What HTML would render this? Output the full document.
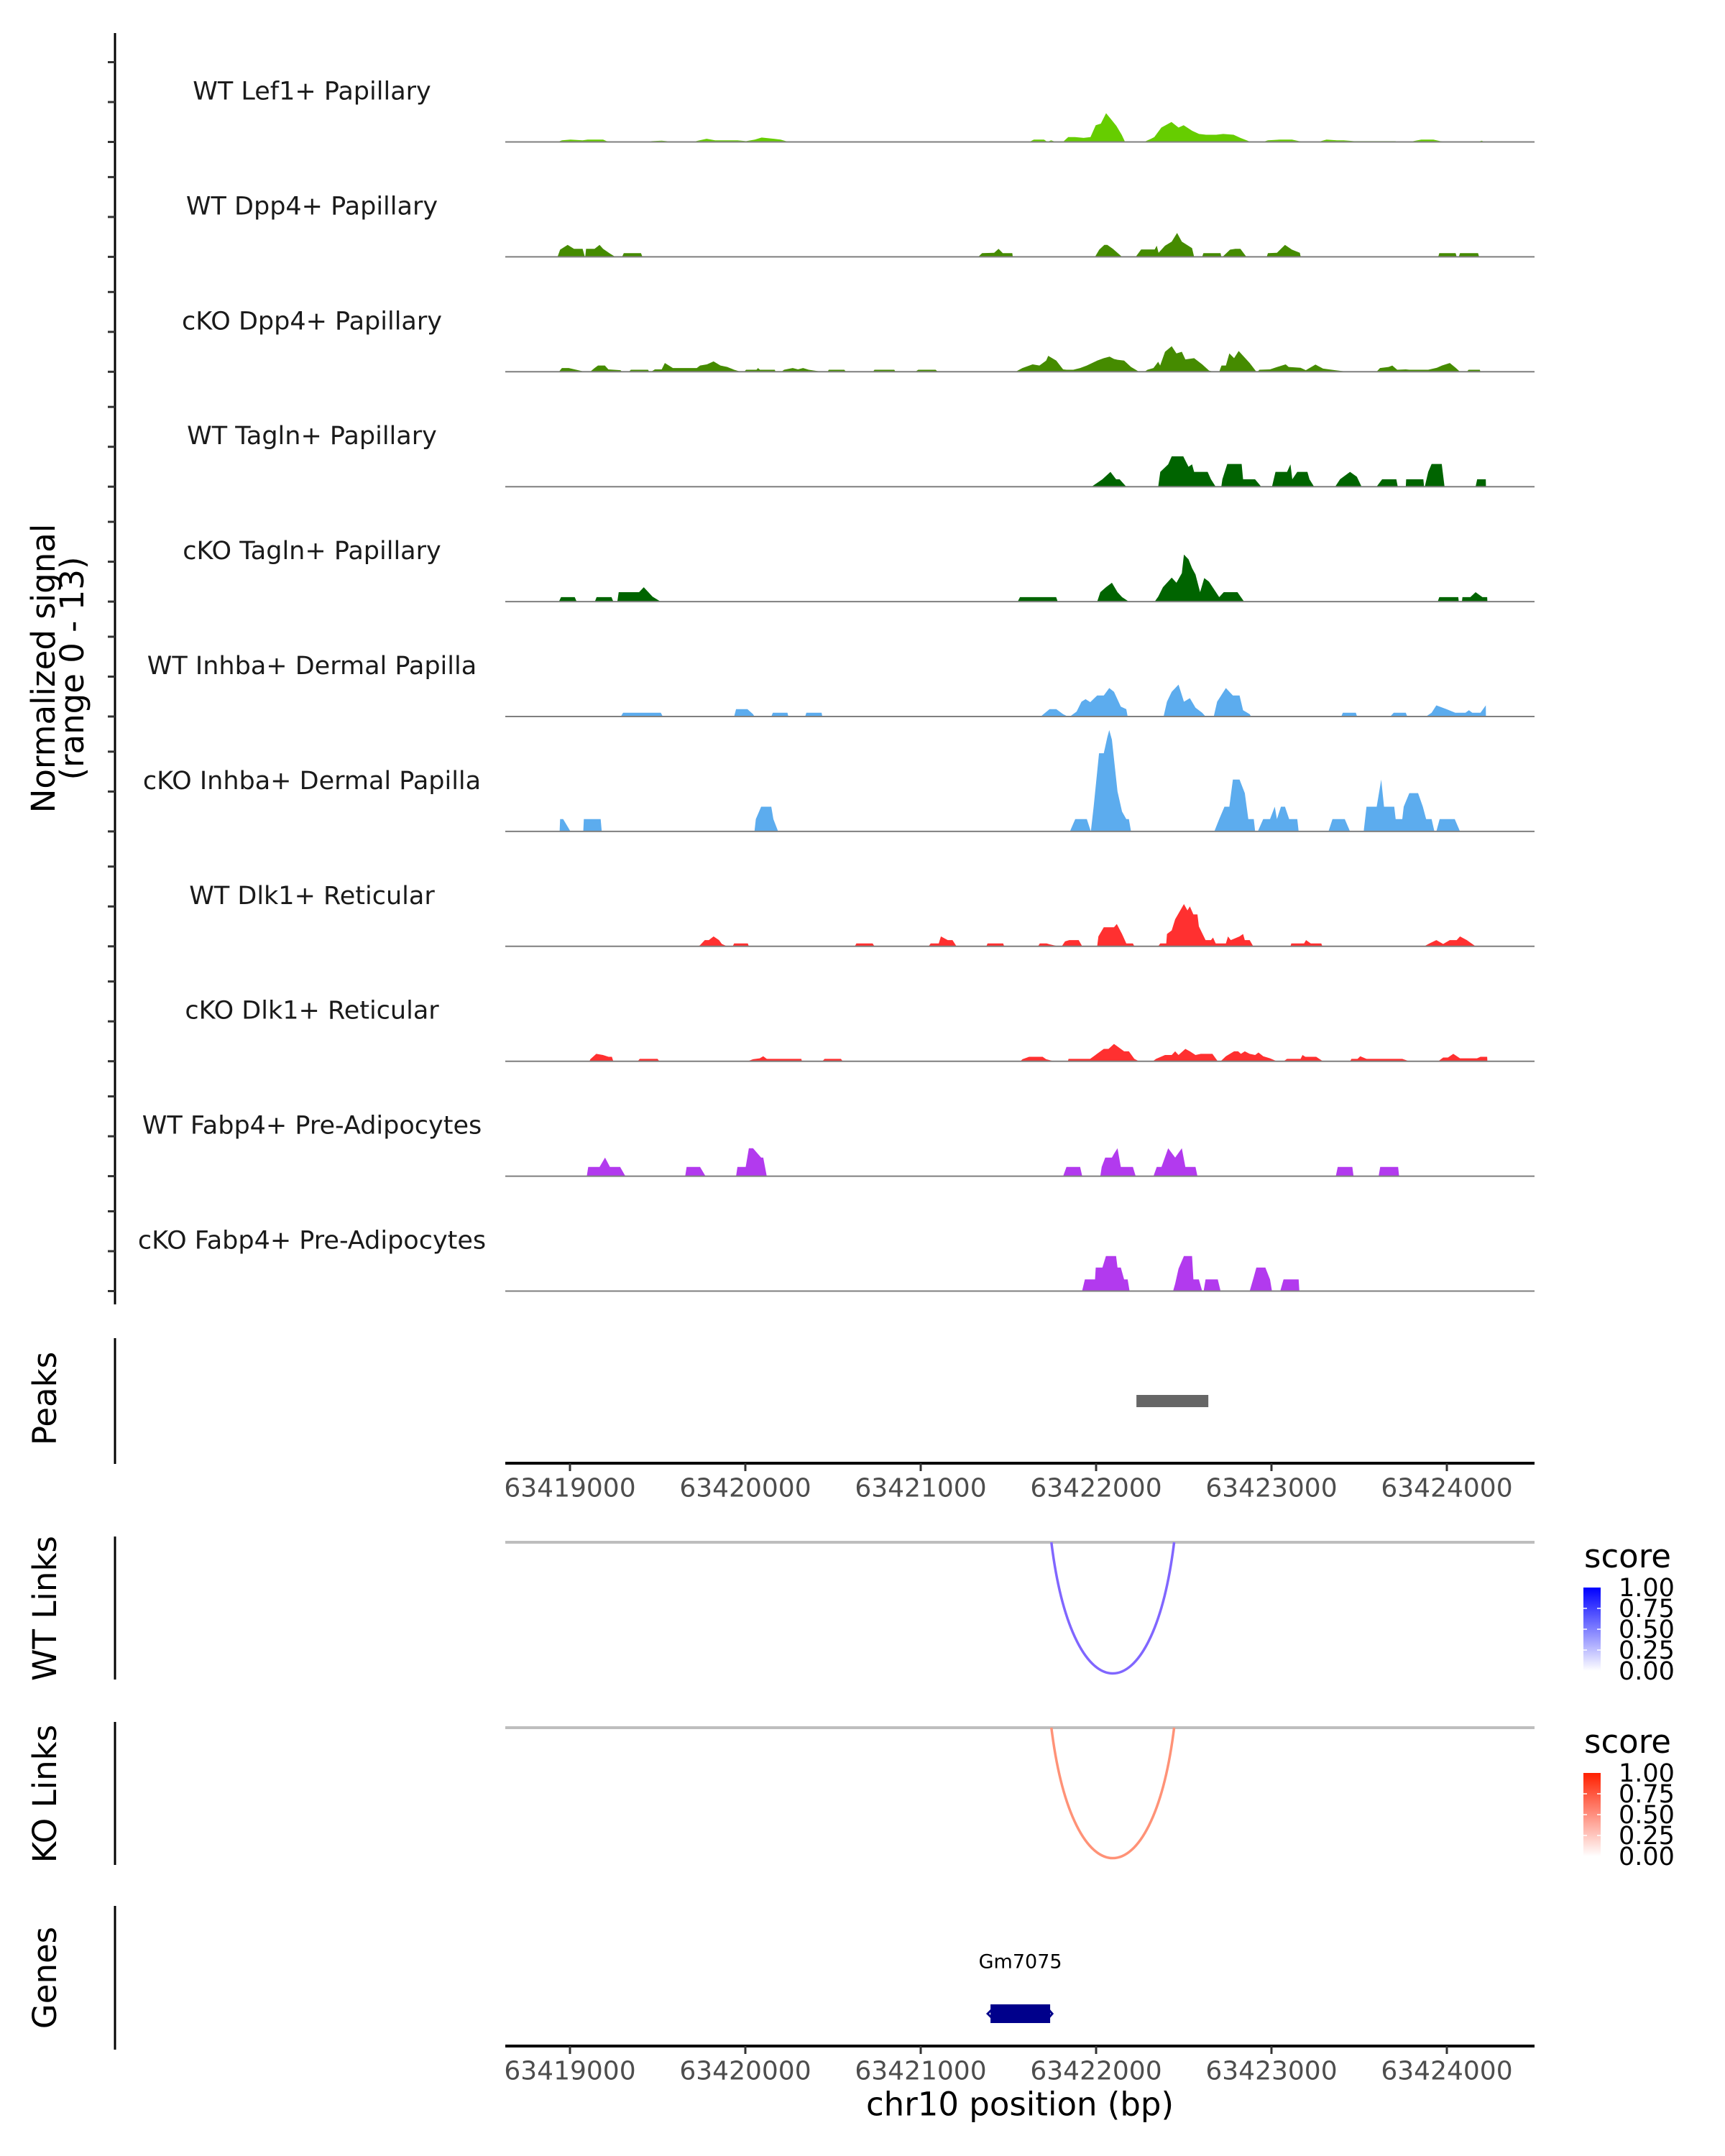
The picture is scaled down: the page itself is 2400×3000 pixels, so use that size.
<!DOCTYPE html>
<html><head><meta charset="utf-8">
<style>
html,body{margin:0;padding:0;background:#fff;}
svg{display:block;font-family:"DejaVu Sans","Liberation Sans",sans-serif;}
</style></head>
<body>
<svg id="chart" width="2400" height="3000" viewBox="0 0 2400 3000" xmlns="http://www.w3.org/2000/svg">
<rect width="2400" height="3000" fill="#fff"/>
<g id="tracks"></g>
<g id="lower"></g>
</svg>
<script>
const trackNames = ["WT Lef1+ Papillary","WT Dpp4+ Papillary","cKO Dpp4+ Papillary","WT Tagln+ Papillary","cKO Tagln+ Papillary","WT Inhba+ Dermal Papilla","cKO Inhba+ Dermal Papilla","WT Dlk1+ Reticular","cKO Dlk1+ Reticular","WT Fabp4+ Pre-Adipocytes","cKO Fabp4+ Pre-Adipocytes"];
const trackColors = ["#66CD00","#458B00","#458B00","#006400","#006400","#5CACEE","#5CACEE","#FF3030","#FF3030","#B23AEE","#B23AEE"];
const xTicks = [63419000,63420000,63421000,63422000,63423000,63424000];
const yTickVals = [0,5,10];
const peakRegion = [63422230,63422640];
const wtLink = [63421745,63422445];
const koLink = [63421745,63422445];
const geneSpan = [63421398,63421738];
const legendTicks = ["1.00","0.75","0.50","0.25","0.00"];

const sig1 = [[63418929,0],[63418954,0.2],[63419003,0.3],[63419072,0.2],[63419101,0.3],[63419189,0.3],[63419209,0.1],[63419297,0],[63419435,0],[63419465,0.1],[63419523,0.15],[63419602,0],[63419700,0],[63419739,0.2],[63419779,0.4],[63419828,0.2],[63419955,0.2],[63420004,0.1],[63420054,0.3],[63420093,0.55],[63420162,0.4],[63420201,0.3],[63420231,0.1],[63420280,0],[63421619,0],[63421645,0.3],[63421703,0.3],[63421723,0],[63421743,0.2],[63421772,0],[63421811,0],[63421841,0.6],[63421880,0.6],[63421929,0.5],[63421968,0.6],[63421998,2.1],[63422027,2.3],[63422057,3.6],[63422087,2.8],[63422116,2.0],[63422146,0.9],[63422165,0],[63422273,0],[63422313,0.4],[63422332,0.6],[63422372,1.8],[63422430,2.5],[63422470,1.8],[63422499,2.1],[63422548,1.4],[63422587,1.0],[63422627,0.9],[63422685,0.9],[63422725,1.0],[63422784,0.9],[63422823,0.5],[63422882,0],[63422950,0],[63422980,0.2],[63423049,0.3],[63423117,0.3],[63423157,0.1],[63423245,0],[63423265,0],[63423314,0.3],[63423373,0.2],[63423412,0.2],[63423471,0.1],[63423707,0.1],[63423727,0],[63423785,0],[63423854,0.3],[63423923,0.3],[63423962,0.1],[63424075,0],[63424178,0],[63424198,0.15],[63424218,0]];
const sig2 = [[63418929,0],[63418944,0.9],[63418987,1.5],[63419023,1.0],[63419072,1.0],[63419085,0],[63419087,0],[63419092,1.0],[63419140,1.0],[63419169,1.5],[63419189,1.0],[63419229,0.4],[63419258,0],[63419297,0],[63419307,0.47],[63419405,0.47],[63419413,0],[63421328,0],[63421350,0.47],[63421419,0.5],[63421444,1.0],[63421468,0.47],[63421522,0.47],[63421525,0],[63421994,0],[63422018,0.9],[63422047,1.5],[63422064,1.5],[63422096,1.0],[63422148,0],[63422226,0],[63422257,0.93],[63422334,0.93],[63422346,1.4],[63422356,0.5],[63422393,1.4],[63422431,1.9],[63422462,3.0],[63422489,1.9],[63422547,1.1],[63422559,0],[63422605,0],[63422612,0.47],[63422710,0.47],[63422714,0],[63422721,0],[63422764,0.9],[63422794,1.0],[63422823,1.0],[63422857,0],[63422973,0],[63422980,0.47],[63423031,0.5],[63423077,1.5],[63423117,0.9],[63423162,0.5],[63423167,0],[63423951,0],[63423957,0.47],[63424050,0.47],[63424056,0],[63424068,0],[63424075,0.47],[63424178,0.47],[63424184,0]];
const sig3 = [[63418937,0],[63418954,0.47],[63418993,0.47],[63419085,0],[63419115,0],[63419140,0.47],[63419160,0.78],[63419199,0.78],[63419219,0.3],[63419288,0.2],[63419297,0],[63419336,0],[63419347,0.25],[63419445,0.25],[63419452,0],[63419463,0],[63419484,0.3],[63419523,0.3],[63419541,1.1],[63419587,0.47],[63419723,0.47],[63419742,0.78],[63419781,0.93],[63419819,1.3],[63419858,0.78],[63419897,0.6],[63419936,0.25],[63419974,0],[63419994,0],[63420004,0.25],[63420064,0.25],[63420072,0.47],[63420083,0.25],[63420168,0.25],[63420172,0],[63420206,0],[63420221,0.25],[63420270,0.47],[63420300,0.3],[63420329,0.47],[63420361,0.25],[63420439,0],[63420469,0],[63420476,0.25],[63420564,0.25],[63420574,0],[63420728,0],[63420736,0.25],[63420849,0.25],[63420856,0],[63420969,0],[63420986,0.25],[63421085,0.25],[63421097,0],[63421541,0],[63421580,0.47],[63421638,0.93],[63421677,0.78],[63421715,1.4],[63421727,2.0],[63421773,1.4],[63421812,0.3],[63421831,0.25],[63421870,0.25],[63421909,0.47],[63421947,0.78],[63422006,1.4],[63422044,1.7],[63422077,1.9],[63422102,1.6],[63422122,1.5],[63422160,1.4],[63422199,0.6],[63422245,0],[63422276,0],[63422293,0.25],[63422327,0.47],[63422354,1.25],[63422365,0.78],[63422393,2.5],[63422431,3.2],[63422458,2.3],[63422489,2.5],[63422509,1.55],[63422559,1.7],[63422605,0.93],[63422644,0.15],[63422671,0],[63422702,0],[63422715,0.78],[63422740,0.78],[63422760,2.3],[63422787,1.7],[63422813,2.6],[63422830,2.2],[63422876,1.1],[63422914,0],[63422921,0],[63422931,0.25],[63422992,0.3],[63423019,0.5],[63423081,0.93],[63423098,0.6],[63423166,0.5],[63423196,0.2],[63423251,0.9],[63423294,0.4],[63423363,0.2],[63423437,0],[63423599,0],[63423619,0.47],[63423668,0.6],[63423689,0.78],[63423717,0.25],[63423766,0.3],[63423786,0.25],[63423894,0.25],[63423943,0.5],[63423972,0.78],[63424017,1.1],[63424050,0.5],[63424075,0],[63424114,0],[63424124,0.25],[63424188,0.25],[63424192,0]];
const sig4 = [[63421974,0],[63422036,0.93],[63422082,1.86],[63422114,0.93],[63422134,0.93],[63422172,0],[63422354,0],[63422366,1.86],[63422411,2.8],[63422431,3.8],[63422497,3.8],[63422527,2.5],[63422547,2.8],[63422559,1.86],[63422636,1.86],[63422655,0.93],[63422682,0],[63422714,0],[63422720,0.93],[63422748,2.85],[63422830,2.85],[63422838,0.93],[63422906,0.93],[63422942,0],[63423003,0],[63423023,1.86],[63423089,1.86],[63423108,2.8],[63423119,0.93],[63423147,1.86],[63423205,1.86],[63423217,0.93],[63423243,0],[63423363,0],[63423391,0.93],[63423448,1.86],[63423487,1.24],[63423514,0],[63423599,0],[63423631,0.93],[63423712,0.93],[63423720,0],[63423766,0],[63423768,0.93],[63423866,0.93],[63423870,0],[63423874,0],[63423894,1.86],[63423913,2.85],[63423971,2.85],[63423987,0],[63424164,0],[63424173,0.93],[63424222,0.93],[63424223,0]];
const sig5 = [[63418937,0],[63418949,0.56],[63419027,0.56],[63419038,0],[63419142,0],[63419152,0.56],[63419237,0.56],[63419247,0],[63419270,0],[63419278,1.18],[63419394,1.18],[63419421,1.8],[63419471,0.62],[63419517,0],[63421553,0],[63421566,0.56],[63421772,0.56],[63421781,0],[63422006,0],[63422024,1.18],[63422056,1.8],[63422090,2.36],[63422122,1.18],[63422148,0.56],[63422187,0],[63422334,0],[63422354,0.62],[63422381,1.8],[63422431,3.0],[63422458,2.36],[63422489,3.57],[63422501,5.9],[63422527,5.3],[63422547,4.2],[63422567,3.4],[63422593,1.18],[63422617,2.95],[63422644,2.5],[63422702,0.56],[63422728,1.18],[63422806,1.18],[63422844,0],[63423948,0],[63423957,0.56],[63424065,0.56],[63424068,0],[63424086,0],[63424089,0.56],[63424134,0.56],[63424164,1.18],[63424203,0.56],[63424230,0.56],[63424231,0]];
const sig6 = [[63419290,0],[63419303,0.47],[63419518,0.47],[63419529,0],[63419936,0],[63419947,0.93],[63420012,0.93],[63420044,0.3],[63420052,0],[63420148,0],[63420157,0.47],[63420240,0.47],[63420245,0],[63420341,0],[63420348,0.47],[63420435,0.47],[63420439,0],[63421684,0],[63421735,0.93],[63421773,0.93],[63421812,0.3],[63421839,0],[63421851,0],[63421889,0.62],[63421917,1.86],[63421940,2.17],[63421967,1.8],[63422006,2.64],[63422044,2.64],[63422075,3.57],[63422102,3.1],[63422141,1.24],[63422172,0.93],[63422180,0],[63422385,0],[63422404,1.86],[63422431,3.1],[63422470,4.0],[63422501,1.86],[63422535,2.3],[63422567,1.1],[63422605,0.47],[63422624,0],[63422671,0],[63422690,1.86],[63422740,3.57],[63422780,2.64],[63422818,2.64],[63422838,0.78],[63422876,0.3],[63422884,0],[63423398,0],[63423407,0.47],[63423481,0.47],[63423488,0],[63423677,0],[63423697,0.47],[63423766,0.47],[63423774,0],[63423881,0],[63423913,0.47],[63423940,1.4],[63423998,0.93],[63424048,0.47],[63424106,0.47],[63424126,0.78],[63424145,0.47],[63424192,0.47],[63424222,1.4],[63424223,0]];
const sig7 = [[63418941,0],[63418944,1.55],[63418961,1.55],[63419003,0],[63419076,0],[63419079,1.55],[63419175,1.55],[63419181,0],[63420052,0],[63420060,1.55],[63420090,3.1],[63420148,3.1],[63420160,1.55],[63420187,0],[63421851,0],[63421881,1.55],[63421947,1.55],[63421970,0],[63421986,3.1],[63422017,9.8],[63422044,9.8],[63422064,11.8],[63422075,12.7],[63422090,11.5],[63422122,5.0],[63422148,2.5],[63422172,1.55],[63422187,1.55],[63422199,0],[63422674,0],[63422702,1.55],[63422732,3.1],[63422760,3.1],[63422780,6.5],[63422818,6.5],[63422848,4.8],[63422868,1.55],[63422899,1.55],[63422907,0],[63422922,0],[63422953,1.55],[63422992,1.55],[63423019,3.1],[63423031,1.55],[63423054,3.1],[63423077,3.1],[63423101,1.55],[63423147,1.55],[63423155,0],[63423325,0],[63423348,1.55],[63423418,1.55],[63423448,0],[63423526,0],[63423542,3.1],[63423600,3.1],[63423626,6.5],[63423642,3.1],[63423700,3.1],[63423708,1.55],[63423746,1.55],[63423754,3.1],[63423786,4.8],[63423836,4.8],[63423863,3.1],[63423882,1.55],[63423913,1.55],[63423929,0],[63423940,0],[63423959,1.55],[63424045,1.55],[63424075,0]];
const sig8 = [[63419730,0],[63419742,0.15],[63419769,0.78],[63419792,0.78],[63419819,1.24],[63419850,0.78],[63419866,0.3],[63419896,0],[63419928,0],[63419936,0.37],[63420014,0.37],[63420020,0],[63420624,0],[63420633,0.37],[63420726,0.37],[63420736,0],[63421045,0],[63421057,0.37],[63421103,0.37],[63421115,1.24],[63421154,0.78],[63421181,0.78],[63421204,0],[63421374,0],[63421381,0.37],[63421470,0.37],[63421476,0],[63421669,0],[63421679,0.37],[63421718,0.37],[63421735,0.25],[63421785,0],[63421804,0],[63421823,0.62],[63421847,0.78],[63421901,0.78],[63421921,0],[63422006,0],[63422013,1.24],[63422044,2.4],[63422102,2.4],[63422118,2.8],[63422148,1.55],[63422172,0.37],[63422210,0.37],[63422218,0],[63422354,0],[63422366,0.37],[63422400,0.37],[63422404,1.55],[63422431,2.0],[63422451,3.4],[63422501,5.3],[63422521,4.5],[63422535,5.0],[63422555,4.0],[63422578,4.0],[63422586,2.5],[63422624,0.78],[63422655,0.78],[63422667,1.1],[63422682,0.37],[63422740,0.37],[63422752,1.24],[63422768,0.78],[63422818,1.24],[63422838,1.55],[63422848,0.78],[63422876,0.78],[63422896,0],[63423108,0],[63423113,0.37],[63423186,0.37],[63423197,0.78],[63423224,0.37],[63423284,0.37],[63423290,0],[63423871,0],[63423901,0.37],[63423940,0.78],[63423979,0.3],[63424017,0.78],[63424056,0.78],[63424075,1.24],[63424114,0.78],[63424164,0]];
const sig9 = [[63419111,0],[63419116,0.25],[63419150,0.93],[63419188,0.78],[63419220,0.56],[63419239,0.56],[63419247,0],[63419386,0],[63419398,0.3],[63419499,0.3],[63419510,0],[63420012,0],[63420044,0.25],[63420082,0.37],[63420102,0.62],[63420122,0.3],[63420319,0.3],[63420323,0],[63420439,0],[63420452,0.3],[63420545,0.3],[63420555,0],[63421568,0],[63421580,0.25],[63421618,0.56],[63421695,0.56],[63421715,0.25],[63421761,0],[63421839,0],[63421843,0.3],[63421966,0.3],[63422044,1.55],[63422071,1.55],[63422102,2.17],[63422122,1.86],[63422160,1.24],[63422187,1.24],[63422218,0.3],[63422245,0],[63422323,0],[63422342,0.3],[63422393,0.78],[63422431,0.78],[63422451,1.24],[63422470,0.78],[63422509,1.55],[63422535,1.24],[63422567,0.78],[63422597,0.93],[63422663,0.93],[63422694,0],[63422710,0],[63422740,0.62],[63422787,1.24],[63422810,1.24],[63422826,0.93],[63422848,1.24],[63422876,0.93],[63422907,0.78],[63422926,1.1],[63422953,0.62],[63422992,0.37],[63423031,0],[63423069,0],[63423089,0.3],[63423166,0.3],[63423177,0.78],[63423193,0.56],[63423255,0.56],[63423294,0],[63423448,0],[63423456,0.3],[63423491,0.3],[63423506,0.62],[63423542,0.3],[63423746,0.3],[63423786,0],[63423951,0],[63423979,0.47],[63424006,0.47],[63424037,0.93],[63424075,0.37],[63424172,0.37],[63424192,0.56],[63424230,0.56],[63424231,0]];
const sig10 = [[63419096,0],[63419104,1.15],[63419169,1.15],[63419200,2.33],[63419228,1.15],[63419286,1.15],[63419316,0],[63419657,0],[63419665,1.15],[63419742,1.15],[63419773,0],[63419947,0],[63419955,1.15],[63420002,1.15],[63420020,3.5],[63420044,3.5],[63420090,2.33],[63420102,2.33],[63420122,0],[63421812,0],[63421831,1.15],[63421909,1.15],[63421921,0],[63422024,0],[63422032,1.15],[63422052,2.33],[63422090,2.33],[63422102,2.8],[63422122,3.5],[63422141,1.15],[63422210,1.15],[63422226,0],[63422327,0],[63422346,1.15],[63422373,1.15],[63422411,3.5],[63422451,2.33],[63422489,3.5],[63422509,1.15],[63422567,1.15],[63422578,0],[63423367,0],[63423378,1.15],[63423461,1.15],[63423468,0],[63423611,0],[63423620,1.15],[63423722,1.15],[63423728,0]];
const sig11 = [[63421920,0],[63421936,1.46],[63421994,1.46],[63421998,2.95],[63422036,2.95],[63422056,4.4],[63422114,4.4],[63422122,2.95],[63422141,2.95],[63422160,1.46],[63422180,1.46],[63422191,0],[63422439,0],[63422451,0.93],[63422470,2.8],[63422501,4.4],[63422547,4.4],[63422555,1.46],[63422586,1.46],[63422605,0],[63422613,0],[63422624,1.46],[63422694,1.46],[63422710,0],[63422876,0],[63422895,1.46],[63422914,2.95],[63422965,2.95],[63422992,1.46],[63423003,0],[63423050,0],[63423069,1.46],[63423155,1.46],[63423159,0]];
const signals = [sig1,sig2,sig3,sig4,sig5,sig6,sig7,sig8,sig9,sig10,sig11];

const NS="http://www.w3.org/2000/svg";
const X0=793, PXPERBP=0.244, XL=703, XR=2135;
function xScale(bp){return X0+(bp-63419000)*PXPERBP;}
const BASE0=197.5, TRK=159.9, YUNIT=11.1;
function baseY(i){return BASE0+TRK*i;}
function yScale(i,v){return baseY(i)-v*YUNIT;}
function mk(tag,attrs,parent){const e=document.createElementNS(NS,tag);for(const k in attrs)e.setAttribute(k,attrs[k]);parent.appendChild(e);return e;}

const tg=document.getElementById('tracks');
const ax=mk('line',{x1:160,y1:46,x2:160,y2:1815,stroke:'#000','stroke-width':3},tg);


for(let i=0;i<signals.length;i++){
  for(const tv of yTickVals){
    const t=mk('line',{x1:150,x2:160,y1:yScale(i,tv),y2:yScale(i,tv),stroke:'#333','stroke-width':3},tg);
    
    
  }
  const d=signals[i];
  let p='M'+xScale(d[0][0]).toFixed(1)+','+baseY(i).toFixed(1);
  for(const pt of d){p+=' L'+xScale(pt[0]).toFixed(1)+','+yScale(i,pt[1]).toFixed(1);}
  p+=' L'+xScale(d[d.length-1][0]).toFixed(1)+','+baseY(i).toFixed(1)+' Z';
  const path=mk('path',{d:p,fill:trackColors[i]},tg);
  
  
  const bl=mk('line',{x1:XL,x2:XR,y1:baseY(i),y2:baseY(i),stroke:'#7f7f7f','stroke-width':2},tg);
  
  
  const lb=mk('text',{x:434,y:baseY(i)-70,'text-anchor':'middle','dominant-baseline':'central','font-size':35,fill:'#1a1a1a'},tg);
  lb.textContent=trackNames[i];
  
  
}
const yt=mk('text',{transform:'translate(76,930) rotate(-90)','text-anchor':'middle','font-size':45,fill:'#000'},tg);
yt.textContent='Normalized signal';


const yt2=mk('text',{transform:'translate(116,930) rotate(-90)','text-anchor':'middle','font-size':45,fill:'#000'},tg);
yt2.textContent='(range 0 - 13)';



const lg=document.getElementById('lower');
function panelLabel(txt,cy,y1,y2,name){
  const t=mk('text',{transform:'translate(78,'+cy+') rotate(-90)','text-anchor':'middle','font-size':45,fill:'#000'},lg);
  t.textContent=txt;
  
  
  const l=mk('line',{x1:160,x2:160,y1:y1,y2:y2,stroke:'#000','stroke-width':3},lg);
  
  
}
panelLabel('Peaks',1946,1862,2037,'peaks');
panelLabel('WT Links',2238,2138,2337,'wt-links');
panelLabel('KO Links',2496,2396,2595,'ko-links');
panelLabel('Genes',2752,2652,2852,'genes');

const pk=mk('rect',{x:xScale(peakRegion[0]),y:1941,width:xScale(peakRegion[1])-xScale(peakRegion[0]),height:17,fill:'#666666'},lg);



function xAxis(y,name){
  const l=mk('line',{x1:XL,x2:XR,y1:y,y2:y,stroke:'#000','stroke-width':4},lg);
  
  
  for(const t of xTicks){
    const tk=mk('line',{x1:xScale(t),x2:xScale(t),y1:y,y2:y+11,stroke:'#333','stroke-width':3},lg);
    
    
    const tl=mk('text',{x:xScale(t),y:y+35,'text-anchor':'middle','dominant-baseline':'central','font-size':36,fill:'#4d4d4d'},lg);
    tl.textContent=String(t);
    
    
  }
}
xAxis(2036,'peaks-x-axis');
xAxis(2847,'genes-x-axis');
const xt=mk('text',{x:(XL+XR)/2,y:2928,'text-anchor':'middle','dominant-baseline':'central','font-size':45,fill:'#000'},lg);
xt.textContent='chr10 position (bp)';



function links(top,bottom,link,col,name,legTop,gradTop){
  const g=mk('line',{x1:XL,x2:XR,y1:top,y2:top,stroke:'#bebebe','stroke-width':4},lg);
  
  
  const a=xScale(link[0]),b=xScale(link[1]),m=(a+b)/2;
  const arc=mk('path',{d:'M'+a+','+top+' C'+(a+(m-a)*0.35)+','+(bottom+(bottom-top)*0.33)+' '+(b-(b-m)*0.35)+','+(bottom+(bottom-top)*0.33)+' '+b+','+top,fill:'none',stroke:col,'stroke-width':3.5},lg);
  
  
  const gid=name+'-grad';
  const defs=mk('defs',{},lg);
  const lgd=mk('linearGradient',{id:gid,x1:0,y1:0,x2:0,y2:1},defs);
  mk('stop',{offset:0,'stop-color':gradTop},lgd);
  mk('stop',{offset:1,'stop-color':'#ffffff'},lgd);
  const tt=mk('text',{x:2204,y:legTop-28,'font-size':45,fill:'#000'},lg);
  tt.textContent='score';
  
  
  const bar=mk('rect',{x:2203,y:legTop,width:24,height:116,fill:'url(#'+gid+')'},lg);
  
  
  legendTicks.forEach((s,k)=>{
    const yy=legTop+k*29;
    if(k>0&&k<4){
      mk('line',{x1:2203,x2:2208,y1:yy,y2:yy,stroke:'#fff','stroke-width':1.5},lg);
      mk('line',{x1:2222,x2:2227,y1:yy,y2:yy,stroke:'#fff','stroke-width':1.5},lg);
    }
    const lt=mk('text',{x:2252,y:yy+1,'dominant-baseline':'central','font-size':35,fill:'#000'},lg);
    lt.textContent=s;
    
    
  });
}
links(2146,2329,wtLink,'#8066FF','wt-links',2209,'#0000FF');
links(2404,2586,koLink,'#FF9277','ko-links',2467,'#FF2000');

const gl=mk('text',{x:(xScale(geneSpan[0])+xScale(geneSpan[1]))/2,y:2730,'text-anchor':'middle','dominant-baseline':'central','font-size':27,fill:'#000'},lg);
gl.textContent='Gm7075';


const gr=mk('rect',{x:xScale(geneSpan[0]),y:2789,width:xScale(geneSpan[1])-xScale(geneSpan[0]),height:26,fill:'#00008B'},lg);


const ga=mk('path',{d:'M'+(xScale(geneSpan[1])-4)+',2794 l7,8 l-7,8 M'+(xScale(geneSpan[0])+2)+',2796 l-6,6 l6,6',fill:'none',stroke:'#00008B','stroke-width':3},lg);


</script>
</body></html>
